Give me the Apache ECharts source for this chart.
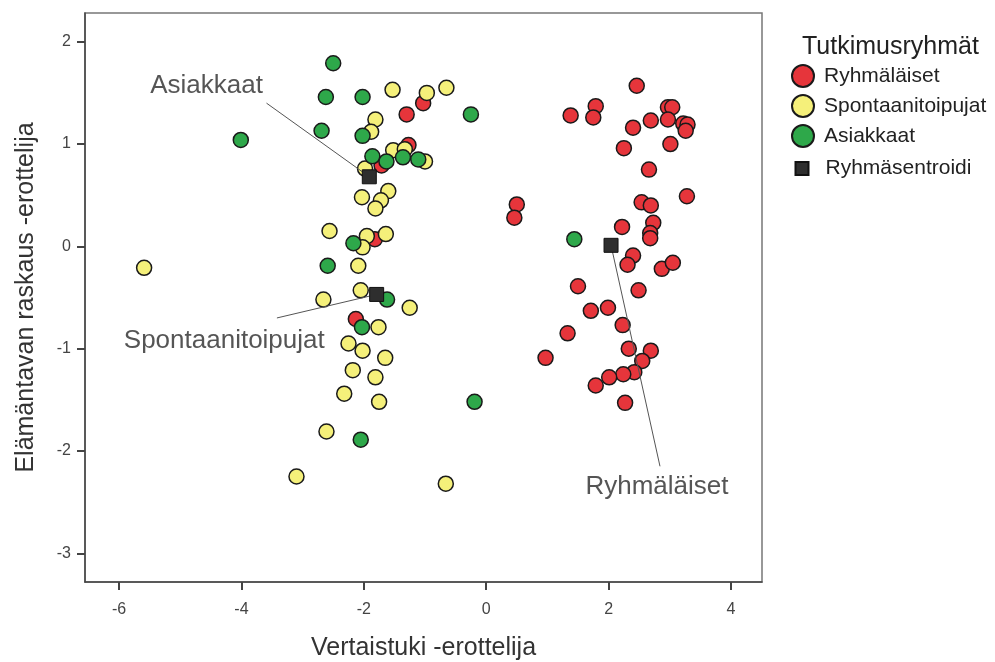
<!DOCTYPE html>
<html>
<head>
<meta charset="utf-8">
<script src="https://cdn.jsdelivr.net/npm/echarts@6/dist/echarts.min.js"></script>
<style>
html,body{margin:0;padding:0;background:#fff;}
#c{width:995px;height:662px;}
</style>
</head>
<body>
<div id="c"></div>
<script>
const categories = ['Ryhmäläiset', 'Spontaanitoipujat', 'Asiakkaat'];
const centroidName = 'Ryhmäsentroidi';
const legendTitle = 'Tutkimusryhmät';
const xAxisTitle = 'Vertaistuki -erottelija';
const yAxisTitle = 'Elämäntavan raskaus -erottelija';

const xTicks = [-6, -4, -2, 0, 2, 4];
const yTicks = [-3, -2, -1, 0, 1, 2];

const ryhmalaiset = [
  [-1.30,1.29],[-1.03,1.40],[-1.27,0.99],[-1.71,0.79],[-1.82,0.07],[-2.13,-0.71],
  [2.46,1.57],[1.38,1.28],[1.79,1.37],[1.75,1.26],[2.40,1.16],[2.69,1.23],[2.97,1.36],
  [3.04,1.36],[2.97,1.24],[3.22,1.20],[3.29,1.19],[3.26,1.13],[2.25,0.96],[3.01,1.00],
  [2.66,0.75],[3.28,0.49],[2.54,0.43],[2.69,0.40],[0.50,0.41],[0.46,0.28],[2.73,0.23],
  [2.22,0.19],[2.68,0.13],[2.68,0.08],[2.40,-0.09],[2.31,-0.18],[2.87,-0.22],[3.05,-0.16],
  [1.50,-0.39],[2.49,-0.43],[1.71,-0.63],[1.99,-0.60],[2.23,-0.77],[1.33,-0.85],[2.33,-1.00],
  [2.69,-1.02],[2.55,-1.12],[0.97,-1.09],[2.42,-1.23],[2.24,-1.25],[2.01,-1.28],[1.79,-1.36],
  [2.27,-1.53]
];
const spontaanitoipujat = [
  [-1.53,1.53],[-0.97,1.50],[-0.65,1.55],[-1.81,1.24],[-1.88,1.12],[-1.52,0.94],[-1.33,0.95],
  [-1.00,0.83],[-1.98,0.76],[-1.60,0.54],[-2.03,0.48],[-1.72,0.45],[-1.81,0.37],[-2.56,0.15],
  [-1.95,0.10],[-1.64,0.12],[-2.02,-0.01],[-5.59,-0.21],[-2.09,-0.19],[-2.05,-0.43],[-2.66,-0.52],
  [-1.25,-0.60],[-1.76,-0.79],[-2.25,-0.95],[-2.02,-1.02],[-1.65,-1.09],[-2.18,-1.21],[-1.81,-1.28],
  [-2.32,-1.44],[-1.75,-1.52],[-2.61,-1.81],[-3.10,-2.25],[-0.66,-2.32]
];
const asiakkaat = [
  [-2.50,1.79],[-2.62,1.46],[-2.02,1.46],[-0.25,1.29],[-4.01,1.04],[-2.69,1.13],[-2.02,1.08],
  [-1.86,0.88],[-1.63,0.83],[-1.36,0.87],[-1.11,0.85],[-2.17,0.03],[-2.59,-0.19],[-1.62,-0.52],
  [-2.03,-0.79],[-0.19,-1.52],[-2.05,-1.89],[1.44,0.07]
];
// group centroids, in the order of categories
const centroids = [[2.04,0.01],[-1.79,-0.47],[-1.91,0.68]];
// annotation label anchors (data coords) and connector start points, in the order of categories
const annotationAnchors = [[2.79,-2.35],[-4.28,-0.92],[-4.57,1.57]];
const connectorStarts = [[2.84,-2.15],[-3.42,-0.70],[-3.59,1.40]];

const FONT = '"Liberation Sans", Arial, sans-serif';
const colors = ['#e6353b', '#f5f07a', '#2ea84a'];
const seriesData = [ryhmalaiset, spontaanitoipujat, asiakkaat];

const chart = echarts.init(document.getElementById('c'), null, {renderer: 'canvas'});

const series = categories.map((name, i) => ({
  name: name,
  type: 'scatter',
  data: seriesData[i],
  symbol: 'circle',
  symbolSize: 15,
  z: 2,
  itemStyle: {color: colors[i], borderColor: '#1a1a1a', borderWidth: 1.5, opacity: 1},
  emphasis: {disabled: true}
}));

series.push({
  name: 'connectors',
  type: 'lines',
  coordinateSystem: 'cartesian2d',
  silent: true,
  z: 3,
  data: categories.map((n, i) => ({coords: [connectorStarts[i], centroids[i]]})),
  lineStyle: {color: '#555', width: 1, opacity: 1}
});

series.push({
  name: centroidName,
  type: 'scatter',
  symbol: 'rect',
  symbolSize: 14,
  z: 4,
  data: centroids,
  itemStyle: {color: '#2e2e2e', borderColor: '#111', borderWidth: 1, opacity: 1},
  emphasis: {disabled: true}
});

series.push({
  name: 'labels',
  type: 'scatter',
  silent: true,
  z: 5,
  symbolSize: 0.1,
  itemStyle: {color: 'transparent'},
  data: categories.map((n, i) => ({name: n, value: annotationAnchors[i]})),
  label: {
    show: true,
    position: 'inside',
    formatter: p => p.name,
    fontFamily: FONT,
    fontSize: 26,
    color: '#2a2a2a'
  }
});

const option = {
  backgroundColor: '#ffffff',
  animation: false,
  title: {
    text: legendTitle,
    left: 797,
    top: 30,
    textStyle: {fontFamily: FONT, fontSize: 25, fontWeight: 'normal', color: '#222'}
  },
  legend: [
    {
      data: categories,
      orient: 'vertical',
      left: 786,
      top: 59,
      icon: 'circle',
      itemWidth: 32,
      itemHeight: 22,
      itemGap: 6,
      selectedMode: false,
      textStyle: {fontFamily: FONT, fontSize: 21, color: '#222'}
    },
    {
      data: [centroidName],
      orient: 'vertical',
      left: 789.5,
      top: 153,
      icon: 'rect',
      itemWidth: 13,
      itemHeight: 13,
      selectedMode: false,
      textStyle: {fontFamily: FONT, fontSize: 21, color: '#222', padding: [0, 0, 0, 12]}
    }
  ],
  grid: {
    left: 85, top: 13, width: 677, height: 569,
    outerBoundsMode: 'none',
    containLabel: false,
    show: true, borderColor: '#777', borderWidth: 1.5, backgroundColor: '#fff'
  },
  xAxis: {
    type: 'value',
    min: -6.556, max: 4.507,
    name: xAxisTitle,
    nameLocation: 'middle',
    nameGap: 54,
    nameTextStyle: {fontFamily: FONT, fontSize: 25, color: '#333'},
    axisLine: {show: true, onZero: false, lineStyle: {color: '#444', width: 1.5}},
    axisTick: {show: true, inside: false, length: 8, customValues: xTicks, lineStyle: {color: '#444', width: 2}},
    axisLabel: {customValues: xTicks, margin: 20, fontFamily: FONT, fontSize: 16, color: '#444'},
    splitLine: {show: false}
  },
  yAxis: {
    type: 'value',
    min: -3.281, max: 2.281,
    name: yAxisTitle,
    nameLocation: 'middle',
    nameGap: 46,
    nameTextStyle: {fontFamily: FONT, fontSize: 25, color: '#333'},
    axisLine: {show: true, onZero: false, lineStyle: {color: '#444', width: 1.5}},
    axisTick: {show: true, inside: false, length: 8, customValues: yTicks, lineStyle: {color: '#444', width: 2}},
    axisLabel: {customValues: yTicks, margin: 14, fontFamily: FONT, fontSize: 16, color: '#444'},
    splitLine: {show: false}
  },
  series: series
};

chart.setOption(option);
</script>
</body>
</html>
